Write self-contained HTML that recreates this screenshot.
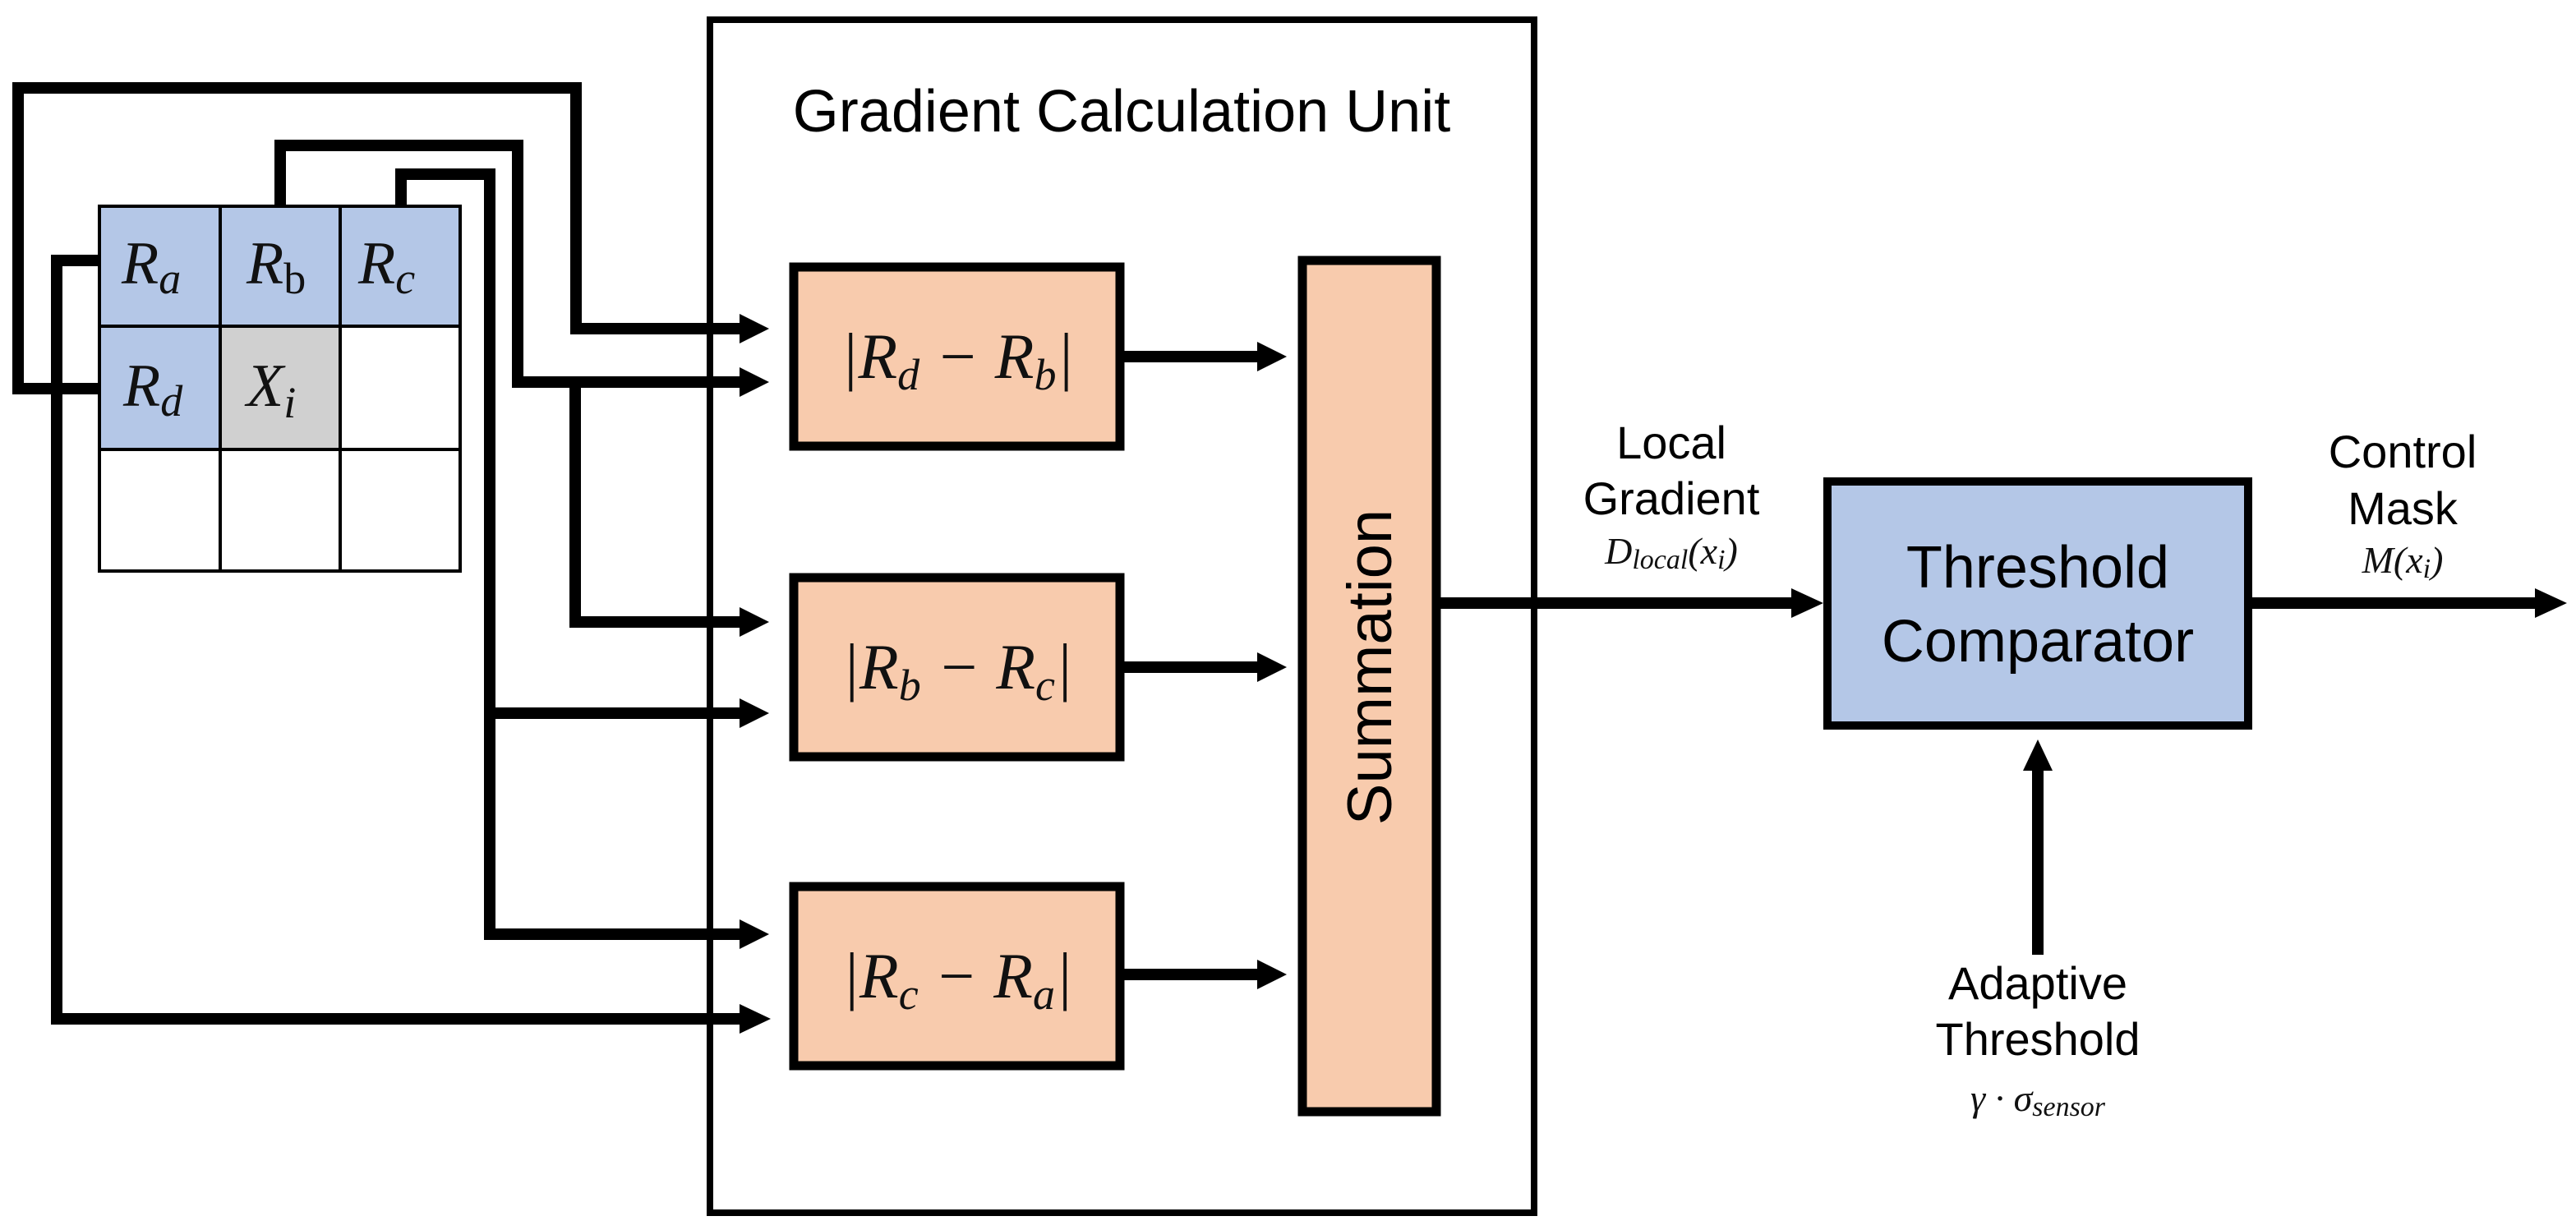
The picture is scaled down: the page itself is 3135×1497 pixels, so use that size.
<!DOCTYPE html>
<html><head><meta charset="utf-8"><style>
html,body{margin:0;padding:0;background:#fff;}
svg{display:block;}
.s{font-family:"Liberation Sans",Arial,sans-serif;fill:#000;}
.m{font-family:"Liberation Serif","DejaVu Serif",serif;font-style:italic;fill:#111;}
</style></head><body>
<svg width="3135" height="1497" viewBox="0 0 3135 1497" xmlns="http://www.w3.org/2000/svg">
<rect width="3135" height="1497" fill="#fff"/>
<rect x="864" y="24" width="1003" height="1452" fill="none" stroke="#000" stroke-width="8"/>
<text class="s" x="1365" y="160" font-size="72" text-anchor="middle">Gradient Calculation Unit</text>

<g stroke="#000" stroke-width="4">
<rect x="121" y="251" width="147" height="146" fill="#b4c7e7"/>
<rect x="268" y="251" width="146" height="146" fill="#b4c7e7"/>
<rect x="414" y="251" width="146" height="146" fill="#b4c7e7"/>
<rect x="121" y="397" width="147" height="150" fill="#b4c7e7"/>
<rect x="268" y="397" width="146" height="150" fill="#d0d0d0"/>
<rect x="414" y="397" width="146" height="150" fill="#fff"/>
<rect x="121" y="547" width="147" height="148" fill="#fff"/>
<rect x="268" y="547" width="146" height="148" fill="#fff"/>
<rect x="414" y="547" width="146" height="148" fill="#fff"/>
</g>
<g class="m" font-size="74">
<text x="148" y="345">R<tspan font-size="54" dy="12">a</tspan></text>
<text x="300" y="345">R<tspan font-size="54" dy="12" font-style="normal">b</tspan></text>
<text x="436" y="345">R<tspan font-size="54" dy="12">c</tspan></text>
<text x="150" y="494">R<tspan font-size="54" dy="12">d</tspan></text>
<text x="300" y="494">X<tspan font-size="54" dy="14">i</tspan></text>
</g>

<g fill="none" stroke="#000" stroke-width="14" stroke-linejoin="miter">
<polyline points="121,473 22,473 22,107 701,107 701,400 905,400"/>
<polyline points="341,251 341,177 630,177 630,465 905,465"/>
<polyline points="700,465 700,757 905,757"/>
<polyline points="488,251 488,212 596,212 596,1137 905,1137"/>
<polyline points="596,868 905,868"/>
<polyline points="121,317 69,317 69,1240 905,1240"/>
<line x1="1368" y1="434" x2="1535" y2="434"/>
<line x1="1368" y1="812" x2="1535" y2="812"/>
<line x1="1368" y1="1186" x2="1535" y2="1186"/>
<line x1="1753" y1="734" x2="2185" y2="734"/>
<line x1="2741" y1="734" x2="3090" y2="734"/>
<line x1="2480" y1="1162" x2="2480" y2="935"/>
</g>
<g fill="#000">
<polygon points="900,382 936,400 900,418"/>
<polygon points="900,447 936,465 900,483"/>
<polygon points="900,739 936,757 900,775"/>
<polygon points="900,850 936,868 900,886"/>
<polygon points="900,1119 936,1137 900,1155"/>
<polygon points="900,1222 938,1240 900,1258"/>
<polygon points="1530,416 1566,434 1530,452"/>
<polygon points="1530,794 1566,812 1530,830"/>
<polygon points="1530,1168 1566,1186 1530,1204"/>
<polygon points="2180,716 2219,734 2180,752"/>
<polygon points="3085,716 3124,734 3085,752"/>
<polygon points="2462,938 2480,900 2498,938"/>
</g>

<g fill="#f8cbad" stroke="#000" stroke-width="11">
<rect x="966" y="325" width="397" height="218"/>
<rect x="966" y="703" width="397" height="218"/>
<rect x="966" y="1079" width="397" height="218"/>
<rect x="1585" y="317" width="163" height="1036"/>
</g>
<g class="m" font-size="78" text-anchor="middle">
<text x="1165" y="460">|R<tspan font-size="54" dy="14">d</tspan><tspan dy="-14"> − R</tspan><tspan font-size="54" dy="14">b</tspan><tspan dy="-14">|</tspan></text>
<text x="1165" y="838">|R<tspan font-size="54" dy="14">b</tspan><tspan dy="-14"> − R</tspan><tspan font-size="54" dy="14">c</tspan><tspan dy="-14">|</tspan></text>
<text x="1165" y="1214">|R<tspan font-size="54" dy="14">c</tspan><tspan dy="-14"> − R</tspan><tspan font-size="54" dy="14">a</tspan><tspan dy="-14">|</tspan></text>
</g>
<text class="s" font-size="76" text-anchor="middle" transform="translate(1693,812) rotate(-90)">Summation</text>

<rect x="2224" y="586" width="512" height="297" fill="#b4c7e7" stroke="#000" stroke-width="10"/>
<text class="s" x="2480" y="715" font-size="72" text-anchor="middle">Threshold</text>
<text class="s" x="2480" y="805" font-size="72" text-anchor="middle">Comparator</text>

<g class="s" font-size="56" text-anchor="middle">
<text x="2034" y="558">Local</text>
<text x="2034" y="626">Gradient</text>
<text x="2924" y="569">Control</text>
<text x="2924" y="638">Mask</text>
<text x="2480" y="1216">Adaptive</text>
<text x="2480" y="1284">Threshold</text>
</g>
<g class="m" font-size="46" text-anchor="middle">
<text x="2034" y="686">D<tspan font-size="34" dy="6">local</tspan><tspan dy="-6">(x</tspan><tspan font-size="34" dy="6">i</tspan><tspan dy="-6">)</tspan></text>
<text x="2924" y="697">M(x<tspan font-size="34" dy="6">i</tspan><tspan dy="-6">)</tspan></text>
<text x="2480" y="1352">γ · σ<tspan font-size="34" dy="6">sensor</tspan></text>
</g>
</svg>
</body></html>
